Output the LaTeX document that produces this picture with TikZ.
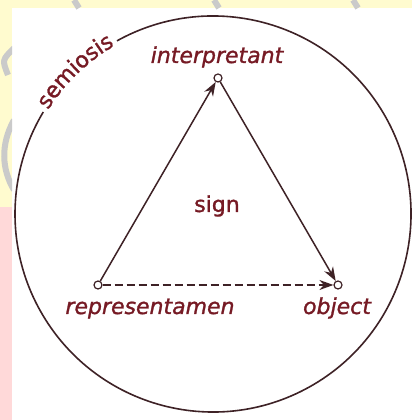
\documentclass[tikz,border=0pt]{standalone}
\usepackage{fontspec}
\setmainfont{DejaVu Sans}[
  BoldFont={DejaVu Sans},BoldFeatures={FakeBold=1.3},
  BoldItalicFont={DejaVu Sans Oblique},BoldItalicFeatures={FakeBold=1.3}]
\usepackage{xcolor}
\usepackage{tikz}
\usetikzlibrary{arrows.meta,positioning,decorations.text}
\definecolor{SemMaroon}{HTML}{761A24}
\definecolor{SemLine}  {HTML}{3E2226}
\definecolor{SemYellow}{HTML}{FFFBCF}
\definecolor{SemPink}  {HTML}{FFD9D9}
\definecolor{SemGray}  {HTML}{CACACA}
\tikzset{
  vertex/.style={circle,draw=SemLine,fill=white,line width=1.2pt,inner sep=0pt,minimum size=8pt},
  lbl/.style={font=\fontsize{22}{26}\selectfont\bfseries\itshape,text=SemMaroon,anchor=base,inner sep=0pt},
  edge/.style={SemLine,line width=1.5pt,-{Stealth[length=14pt,width=10pt]}},
}

\begin{document}
\begin{tikzpicture}[x=1pt,y=1pt]
    \useasboundingbox (0,0) rectangle (412,420);
    % page margins behind the panel
    \fill[SemYellow] (0,0) rectangle (412,420);
    \fill[SemPink] (0,0) rectangle (12,213);
    \fill[white] (12,0) rectangle (412,412);
    % watermark strokes in the margins
    \foreach \x in {78,218,357}{
      \draw[SemGray,line width=6pt] (\x-4,420) -- (\x+1,412);
    }
    \begin{scope}
      \clip (0,0) rectangle (12,412);
      \draw[SemGray,line width=6pt] (14,372) .. controls (2,360) .. (8,345);
      \draw[SemGray,line width=6pt] (14,300) .. controls (0,275) and (2,250) .. (14,230);
    \end{scope}
    % semiosis ring
    \coordinate (c) at (213,206);
    \draw[SemLine,line width=1.6pt] (c) ++(119:198) arc[start angle=119,end angle=-211,radius=198];
    \path[decorate,decoration={text along path,text align=center,raise=-3pt,text color=SemMaroon,
      text={|\fontsize{22}{26}\selectfont\bfseries|semiosis}}]
      (c) ++(149:198) arc[start angle=149,end angle=119,radius=198];
    % triangle
    \node[vertex] (interp) at (218,342) {};
    \node[vertex] (repr) at (98,135) {};
    \node[vertex] (obj) at (338,135) {};
    \draw[edge] (repr) -- (interp);
    \draw[edge] (interp) -- (obj);
    \draw[edge,dash pattern=on 8pt off 4pt] (repr) -- (obj);
    % labels
    \node[lbl] (interplbl) at (217,357) {interpretant};
    \node[lbl,font=\fontsize{22}{26}\selectfont\bfseries] (signlbl) at (217,208) {sign};
    \node[lbl] (reprlbl) at (150,106) {representamen};
    \node[lbl] (objlbl) at (337,106) {object};
\end{tikzpicture}
\end{document}
